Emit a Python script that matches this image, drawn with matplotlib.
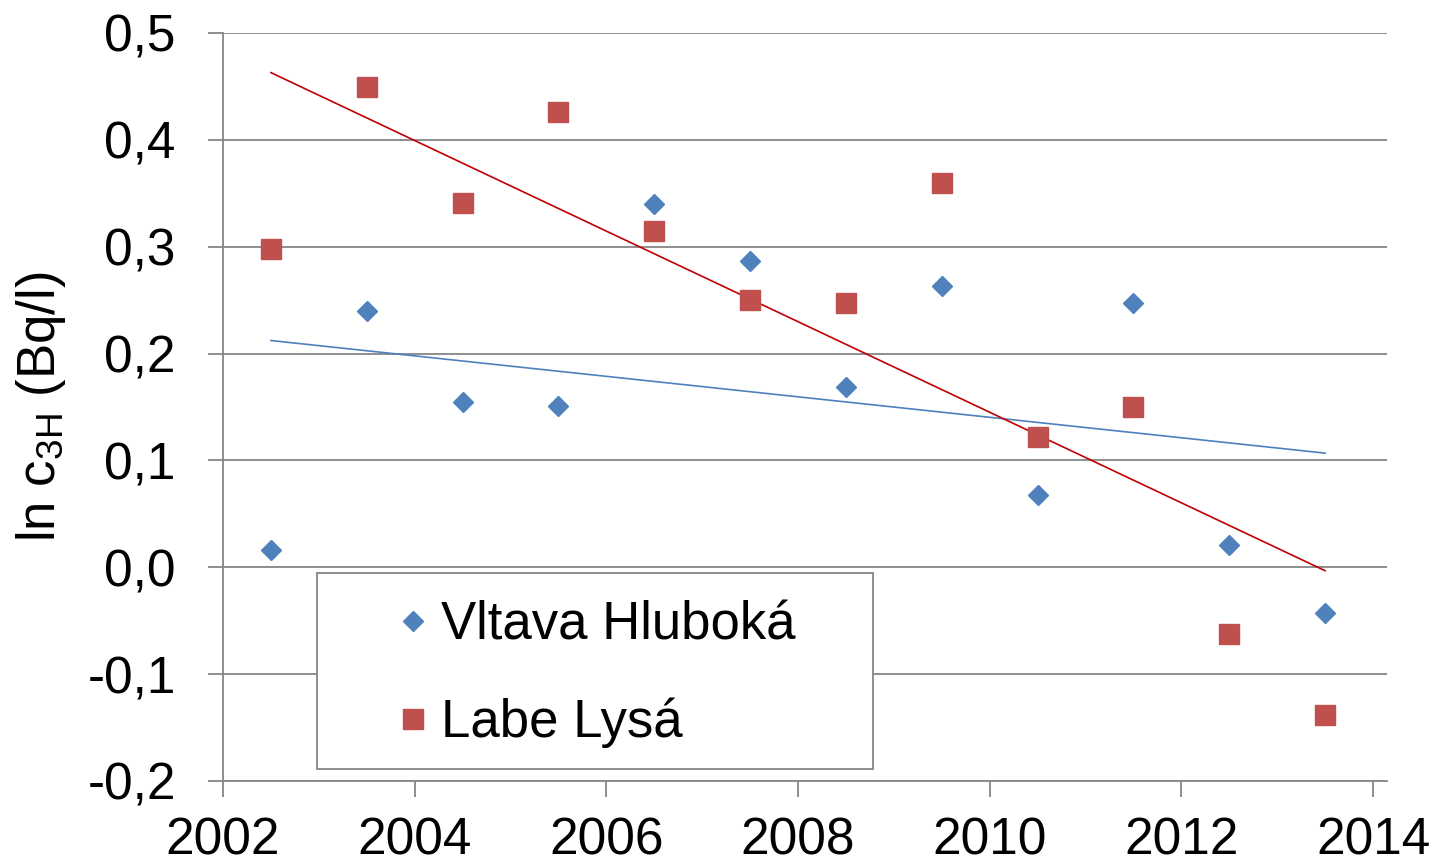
import numpy as np
import matplotlib
matplotlib.use("Agg")
import matplotlib.pyplot as plt
from matplotlib.patches import Rectangle
from matplotlib.ticker import FuncFormatter

plt.rcParams['font.family'] = ['Liberation Sans', 'DejaVu Sans']
plt.rcParams['mathtext.fontset'] = 'custom'
plt.rcParams['mathtext.rm'] = 'Liberation Sans'

# data
years = [2002.5, 2003.5, 2004.5, 2005.5, 2006.5, 2007.5,
         2008.5, 2009.5, 2010.5, 2011.5, 2012.5, 2013.5]
vltava = [0.016, 0.240, 0.155, 0.151, 0.340, 0.287,
          0.169, 0.263, 0.068, 0.247, 0.021, -0.043]
labe = [0.298, 0.449, 0.341, 0.426, 0.315, 0.250,
        0.247, 0.360, 0.122, 0.150, -0.062, -0.138]
x_ticks = [2002, 2004, 2006, 2008, 2010, 2012, 2014]
y_ticks = [-0.2, -0.1, 0.0, 0.1, 0.2, 0.3, 0.4, 0.5]

BLUE = '#4F81BD'
RED = '#C0504D'
GRAY = '#868686'
FS = 37

fig = plt.figure(figsize=(14.37, 8.66), dpi=100)
ax = fig.add_axes([0.1552, 0.0982, 0.81, 0.8637])

# trend lines (linear fit)
x = np.array(years)
for ys, col in ((vltava, BLUE), (labe, '#C00000')):
    k, q = np.polyfit(x, np.array(ys), 1)
    ax.plot([x[0], x[-1]], [k * x[0] + q, k * x[-1] + q], color=col, lw=1.2, zorder=2)

ax.plot(years, vltava, 'D', color=BLUE, ms=10, ls='none', label='Vltava Hluboká', zorder=3)
ax.plot(years, labe, 's', color=RED, ms=14, ls='none', label='Labe Lysá', zorder=3)

ax.set_xlim(2002, 2014.146)
ax.set_ylim(-0.2, 0.5)
ax.set_xticks(x_ticks)
ax.set_yticks(y_ticks)
ax.yaxis.set_major_formatter(FuncFormatter(lambda v, p: f"{v:.1f}".replace('.', ',')))

ax.grid(axis='y', color=GRAY, lw=1.3)
ax.set_axisbelow(True)
for s in ('top', 'right'):
    ax.spines[s].set_visible(False)
for s in ('left', 'bottom'):
    ax.spines[s].set_color(GRAY)
    ax.spines[s].set_linewidth(1.3)
ax.tick_params(axis='y', length=11, width=1.3, color=GRAY, labelsize=FS, pad=23)
ax.tick_params(axis='x', length=11.5, width=1.3, color=GRAY, labelsize=FS, pad=14)

ax.set_ylabel(r'ln c$_{\mathregular{3H}}$ (Bq/l)', fontsize=38, labelpad=14)

# legend box
rect = Rectangle((317 / 1437, 1 - 769 / 866), 556 / 1437, 196 / 866,
                 transform=fig.transFigure, facecolor='white', edgecolor=GRAY,
                 lw=1.3, zorder=4, clip_on=False)
ax.add_patch(rect)
leg = ax.legend(loc='upper left', bbox_to_anchor=(392 / 1437, 1 - 600 / 866),
                bbox_transform=fig.transFigure, frameon=False, fontsize=38,
                handlelength=0.8, handletextpad=0.12, borderpad=0,
                labelspacing=0.9, borderaxespad=0)
leg.set_zorder(5)

fig.savefig('out.png', dpi=100)
